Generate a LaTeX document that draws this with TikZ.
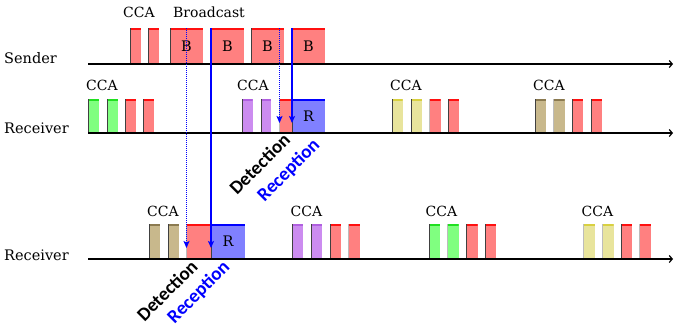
\documentclass[tikz,border=0pt]{standalone}
\usepackage{fontspec}
\setmainfont{DejaVu Serif}
\newfontfamily\lblfont{Carlito}
\usetikzlibrary{arrows.meta}
\definecolor{cRf}{HTML}{FF8080}\definecolor{cRt}{HTML}{FF1010}
\definecolor{cGf}{HTML}{80FF80}\definecolor{cGt}{HTML}{20E020}
\definecolor{cPf}{HTML}{CC8CF0}\definecolor{cPt}{HTML}{B060E0}
\definecolor{cTf}{HTML}{C8B88C}\definecolor{cTt}{HTML}{8B7A50}
\definecolor{cYf}{HTML}{E8E49C}\definecolor{cYt}{HTML}{D8D040}
\definecolor{cBf}{HTML}{8080FF}\definecolor{cBt}{HTML}{0000FF}
\definecolor{lineblue}{HTML}{0000FF}
\begin{document}
\begin{tikzpicture}[x=1pt,y=-1pt,
  slot/.style n args={2}{anchor=south west, inner sep=0pt, outer sep=0pt, fill=#1,
    font=\fontsize{14.5}{16}\selectfont,
    path picture={
      \draw[#2, line width=3pt] (path picture bounding box.north west) -- (path picture bounding box.north east);
      \draw[black!75, line width=1.6pt] (path picture bounding box.south west) -- (path picture bounding box.north west);
    }},
  rbox/.style={slot={cRf}{cRt}},
  gbox/.style={slot={cGf}{cGt}},
  pbox/.style={slot={cPf}{cPt}},
  tbox/.style={slot={cTf}{cTt}},
  ybox/.style={slot={cYf}{cYt}},
  bbox/.style={slot={cBf}{cBt}},
  txt/.style={anchor=base, inner sep=0pt, font=\fontsize{14}{16}\selectfont},
  rowlabel/.style={anchor=base west, inner sep=0pt, font=\fontsize{14.5}{16}\selectfont},
  axisline/.style={line width=1.2pt, -{Straight Barb[length=3pt,width=7pt]}},
  solidarrow/.style={lineblue, line width=1.3pt, -{Stealth[length=7pt,width=6pt,inset=1.5pt]}},
  dotarrow/.style={lineblue, line width=1pt, dash pattern=on 1pt off 1pt, -{Stealth[length=7pt,width=6pt,inset=1.5pt]}},
  diag/.style={rotate=45, inner sep=0pt, font=\lblfont\bfseries\fontsize{19}{21}\selectfont},
]
\useasboundingbox (0,0) rectangle (674,327);

% axes
\coordinate (sa0) at (88,64);  \coordinate (sa1) at (673,64);
\coordinate (ra0) at (88,133); \coordinate (ra1) at (673,133);
\coordinate (qa0) at (88,259); \coordinate (qa1) at (673,259);

% row labels
\node[rowlabel] (lsend) at (4,63) {Sender};
\node[rowlabel] (lrec1) at (4,133.5) {Receiver};
\node[rowlabel] (lrec2) at (4,260) {Receiver};

% sender boxes
\node[rbox, minimum width=11pt, minimum height=36pt] (s1) at (130,64) {};
\node[rbox, minimum width=11pt, minimum height=36pt] (s2) at (148,64) {};
\node[rbox, minimum width=33pt, minimum height=36pt] (s3) at (170,64) {B};
\node[rbox, minimum width=33pt, minimum height=36pt] (s4) at (211,64) {B};
\node[rbox, minimum width=33pt, minimum height=36pt] (s5) at (251,64) {B};
\node[rbox, minimum width=33pt, minimum height=36pt] (s6) at (292,64) {B};
\node[txt] (tcca0) at (139,17) {CCA};
\node[txt] (tbc) at (209,17) {Broadcast};

% receiver 1
\node[gbox, minimum width=11pt, minimum height=34pt] (r1) at (88,133) {};
\node[gbox, minimum width=11pt, minimum height=34pt] (r2) at (107,133) {};
\node[rbox, minimum width=11pt, minimum height=34pt] (r3) at (125,133) {};
\node[rbox, minimum width=11pt, minimum height=34pt] (r4) at (143,133) {};
\node[pbox, minimum width=10.5pt, minimum height=34pt] (r5) at (242,133) {};
\node[pbox, minimum width=10pt, minimum height=34pt] (r6) at (261,133) {};
\node[rbox, minimum width=12.5pt, minimum height=34pt] (r7) at (279.5,133) {};
\node[bbox, minimum width=33pt, minimum height=34pt] (r8) at (292,133) {R};
\node[ybox, minimum width=10.5pt, minimum height=34pt] (r9) at (392,133) {};
\node[ybox, minimum width=11pt, minimum height=34pt] (r10) at (411,133) {};
\node[rbox, minimum width=11pt, minimum height=34pt] (r11) at (429.5,133) {};
\node[rbox, minimum width=11pt, minimum height=34pt] (r12) at (448,133) {};
\node[tbox, minimum width=11pt, minimum height=34pt] (r13) at (535,133) {};
\node[tbox, minimum width=11pt, minimum height=34pt] (r14) at (553.5,133) {};
\node[rbox, minimum width=11pt, minimum height=34pt] (r15) at (572,133) {};
\node[rbox, minimum width=11pt, minimum height=34pt] (r16) at (591,133) {};
\node[txt] (tcca1) at (102,90) {CCA};
\node[txt] (tcca2) at (253,90) {CCA};
\node[txt] (tcca3) at (406,90) {CCA};
\node[txt] (tcca4) at (549,90) {CCA};

% receiver 2
\node[tbox, minimum width=11pt, minimum height=35pt] (q1) at (149,259) {};
\node[tbox, minimum width=11pt, minimum height=35pt] (q2) at (168,259) {};
\node[rbox, minimum width=24.5pt, minimum height=35pt] (q3) at (186.5,259) {};
\node[bbox, minimum width=34pt, minimum height=35pt] (q4) at (211,259) {R};
\node[pbox, minimum width=11pt, minimum height=35pt] (q5) at (292,259) {};
\node[pbox, minimum width=11pt, minimum height=35pt] (q6) at (311,259) {};
\node[rbox, minimum width=11pt, minimum height=35pt] (q7) at (330,259) {};
\node[rbox, minimum width=11.5pt, minimum height=35pt] (q8) at (348.5,259) {};
\node[gbox, minimum width=11pt, minimum height=35pt] (q9) at (429,259) {};
\node[gbox, minimum width=11pt, minimum height=35pt] (q10) at (447.5,259) {};
\node[rbox, minimum width=11.5pt, minimum height=35pt] (q11) at (466,259) {};
\node[rbox, minimum width=11pt, minimum height=35pt] (q12) at (485,259) {};
\node[ybox, minimum width=11.5pt, minimum height=35pt] (q13) at (583.5,259) {};
\node[ybox, minimum width=11pt, minimum height=35pt] (q14) at (602.5,259) {};
\node[rbox, minimum width=11pt, minimum height=35pt] (q15) at (621,259) {};
\node[rbox, minimum width=11.5pt, minimum height=35pt] (q16) at (639.5,259) {};
\node[txt] (tcca5) at (163,216) {CCA};
\node[txt] (tcca6) at (306.5,216) {CCA};
\node[txt] (tcca7) at (441.5,216) {CCA};
\node[txt] (tcca8) at (597.5,216) {CCA};

% axes drawn on top of box bottoms
\draw[axisline] (sa0) -- (sa1);
\draw[axisline] (ra0) -- (ra1);
\draw[axisline] (qa0) -- (qa1);

% signal arrows
\draw[dotarrow] (s3.north -| q3.west) -- ([yshift=11pt]q3.south west);
\draw[solidarrow] (s4.north west) -- ([yshift=11pt]q4.south west);
\draw[dotarrow] (s5.north -| r7.west) -- ([yshift=10pt]r7.south west);
\draw[solidarrow] (s6.north west) -- ([yshift=10pt]r8.south west);

% diagonal labels
\node[diag] (det1) at (259.5,164) {Detection};
\node[diag, text=lineblue] (rec1) at (289,170.5) {Reception};
\node[diag] (det2) at (167,290.5) {Detection};
\node[diag, text=lineblue] (rec2) at (199,292.5) {Reception};
\end{tikzpicture}
\end{document}
